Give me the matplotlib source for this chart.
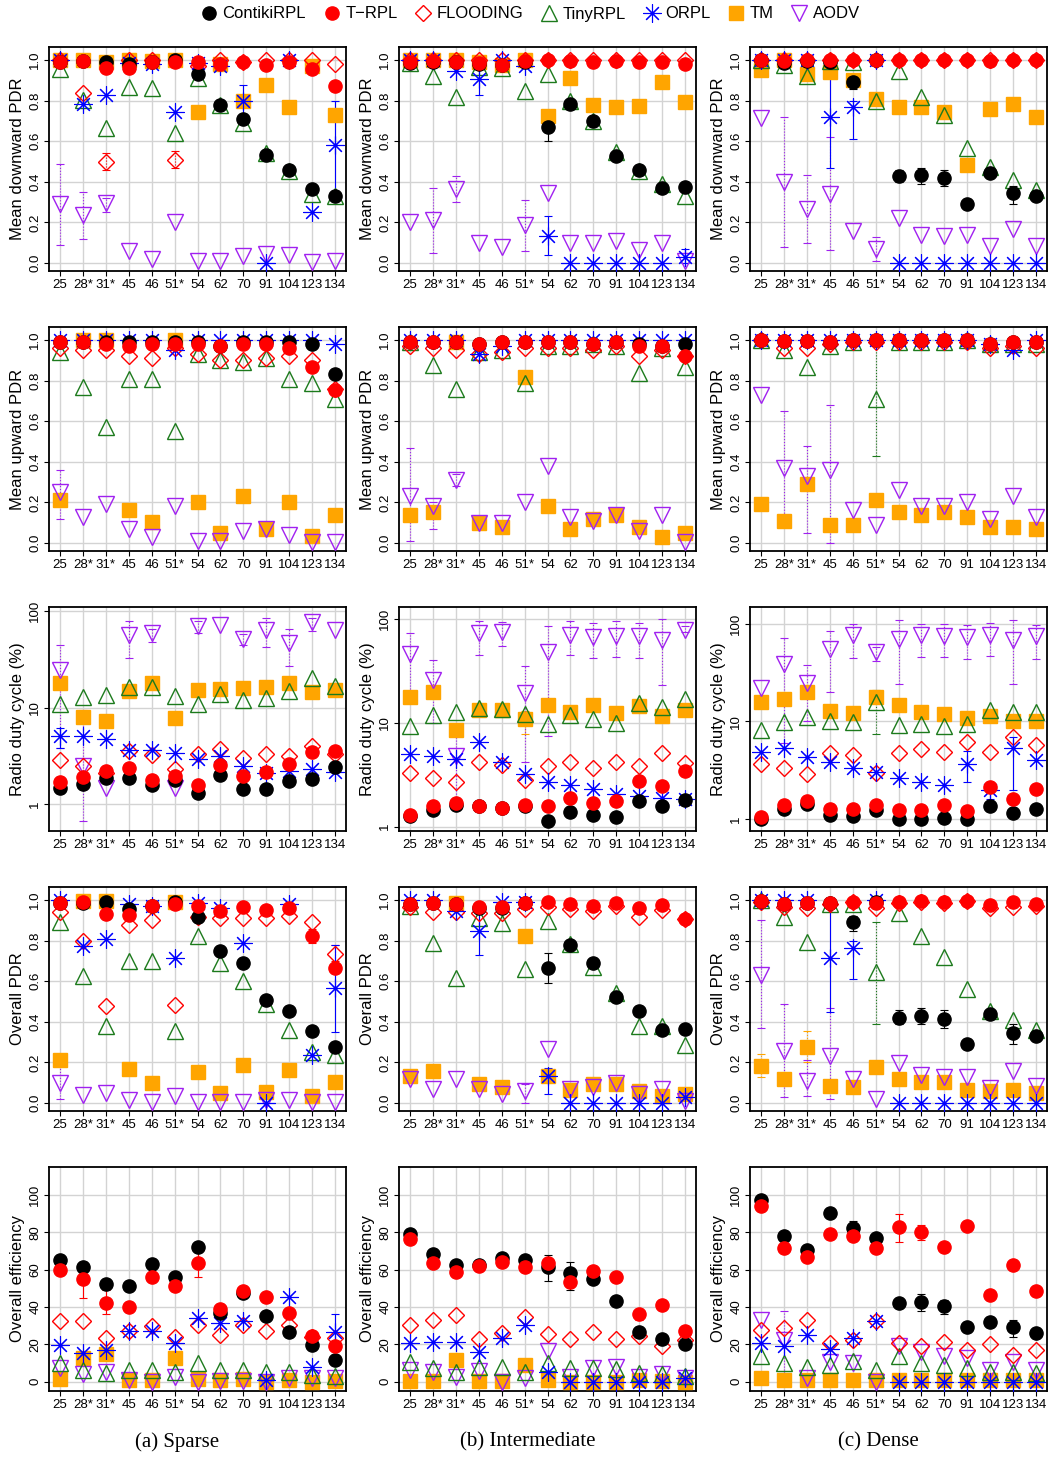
import numpy as np
import matplotlib
matplotlib.use('Agg')
import matplotlib.pyplot as plt
from matplotlib.lines import Line2D
from matplotlib.ticker import FixedLocator, NullLocator

plt.rcParams['font.family'] = ['Liberation Sans', 'DejaVu Sans']

CATS = ['25', '28*', '31*', '45', '46', '51*', '54', '62', '70', '91', '104', '123', '134']
SERIES = ['ContikiRPL', 'T-RPL', 'FLOODING', 'TinyRPL', 'ORPL', 'TM', 'AODV']
LEGEND_LABELS = ['ContikiRPL', 'T\u2212RPL', 'FLOODING', 'TinyRPL', 'ORPL', 'TM', 'AODV']
SCENARIOS = ['(a) Sparse', '(b) Intermediate', '(c) Dense']

# ---- mean downward PDR ----
DOWN_SPARSE = {
    'ContikiRPL': [0.99, 0.995, 0.99, 0.98, 0.99, 1.0, 0.93, 0.78, 0.71, 0.53, 0.46, 0.365, 0.33],
    'T-RPL': [0.99, 0.995, 0.96, 0.96, 0.99, 0.99, 0.99, 0.98, 0.99, 0.975, 0.99, 0.955, 0.875],
    'FLOODING': [1.0, 0.84, 0.50, 1.0, 1.0, 0.51, 0.97, 1.0, 0.99, 1.0, 1.0, 1.0, 0.98],
    'TinyRPL': [0.955, 0.805, 0.665, 0.87, 0.865, 0.64, 0.91, 0.78, 0.69, 0.54, 0.455, 0.34, 0.33],
    'ORPL': [1.0, 0.785, 0.83, 0.985, 0.98, 0.745, 0.985, 0.97, 0.80, 0.0, 1.0, 0.25, 0.58],
    'TM': [1.0, 1.0, 0.99, 1.0, 0.995, 1.0, 0.745, 0.98, 0.80, 0.88, 0.77, 0.97, 0.73],
    'AODV': [0.29, 0.235, 0.295, 0.06, 0.02, 0.20, 0.01, 0.01, 0.035, 0.045, 0.04, 0.005, 0.01],
}
DOWN_INTER = {
    'ContikiRPL': [0.985, 0.99, 0.99, 0.98, 0.975, 0.99, 0.67, 0.785, 0.70, 0.525, 0.46, 0.37, 0.375],
    'T-RPL': [0.99, 0.995, 0.99, 0.985, 0.975, 0.995, 1.0, 0.995, 0.99, 0.995, 0.99, 0.99, 0.98],
    'FLOODING': [1.0, 1.0, 1.0, 1.0, 1.0, 1.0, 1.0, 1.0, 1.0, 1.0, 1.0, 1.0, 1.0],
    'TinyRPL': [0.985, 0.92, 0.82, 0.965, 0.96, 0.85, 0.93, 0.80, 0.70, 0.545, 0.455, 0.39, 0.33],
    'ORPL': [1.0, 1.0, 0.945, 0.905, 1.0, 0.97, 0.135, 0.0, 0.0, 0.0, 0.0, 0.0, 0.03],
    'TM': [1.0, 1.0, 1.0, 0.99, 0.975, 1.0, 0.725, 0.91, 0.78, 0.77, 0.775, 0.89, 0.795],
    'AODV': [0.20, 0.21, 0.365, 0.10, 0.08, 0.185, 0.345, 0.10, 0.10, 0.11, 0.065, 0.10, 0.01],
}
DOWN_DENSE = {
    'ContikiRPL': [1.0, 0.985, 0.995, 0.99, 0.89, 1.0, 0.43, 0.435, 0.42, 0.29, 0.445, 0.345, 0.33],
    'T-RPL': [1.0, 0.995, 1.0, 1.0, 1.0, 1.0, 1.0, 1.0, 1.0, 1.0, 0.995, 1.0, 1.0],
    'FLOODING': [1.0, 1.0, 1.0, 1.0, 1.0, 1.0, 1.0, 1.0, 1.0, 1.0, 1.0, 1.0, 1.0],
    'TinyRPL': [1.0, 0.975, 0.92, 0.995, 0.99, 0.80, 0.945, 0.82, 0.73, 0.565, 0.475, 0.41, 0.36],
    'ORPL': [1.0, 1.0, 1.0, 0.72, 0.77, 1.0, 0.0, 0.0, 0.0, 0.0, 0.0, 0.0, 0.0],
    'TM': [0.95, 1.0, 0.93, 0.94, 0.90, 0.81, 0.77, 0.77, 0.745, 0.485, 0.76, 0.785, 0.72],
    'AODV': [0.715, 0.40, 0.265, 0.34, 0.155, 0.07, 0.22, 0.14, 0.135, 0.14, 0.085, 0.165, 0.085],
}
ERR_DOWN_SPARSE = {
    'AODV': {0: (0.09, 0.49), 1: (0.12, 0.35), 2: (0.25, 0.32)},
    'ORPL': {8: (0.72, 0.88), 12: (0.33, 0.80)},
    'FLOODING': {2: (0.46, 0.54), 5: (0.47, 0.55)},
}
ERR_DOWN_INTER = {
    'ContikiRPL': {6: (0.60, 0.74)},
    'ORPL': {3: (0.83, 0.98), 6: (0.04, 0.23), 12: (0.0, 0.07)},
    'AODV': {1: (0.05, 0.37), 2: (0.30, 0.43), 5: (0.06, 0.31)},
}
ERR_DOWN_DENSE = {
    'AODV': {1: (0.08, 0.72), 2: (0.10, 0.435), 3: (0.065, 0.62), 5: (0.01, 0.13)},
    'ORPL': {3: (0.47, 1.0), 4: (0.61, 0.80)},
    'ContikiRPL': {4: (0.86, 0.92), 6: (0.40, 0.46), 7: (0.39, 0.47), 8: (0.38, 0.46), 11: (0.29, 0.38)},
}

# ---- mean upward PDR ----
UP_SPARSE = {
    'ContikiRPL': [0.99, 0.99, 0.99, 0.99, 0.99, 0.99, 0.99, 0.97, 0.99, 0.99, 0.99, 0.98, 0.835],
    'T-RPL': [0.99, 0.99, 0.98, 0.97, 0.98, 0.98, 0.98, 0.97, 0.98, 0.98, 0.96, 0.87, 0.755],
    'FLOODING': [0.96, 0.95, 0.95, 0.92, 0.91, 0.96, 0.93, 0.90, 0.90, 0.91, 0.92, 0.90, 0.76],
    'TinyRPL': [0.94, 0.77, 0.57, 0.81, 0.81, 0.55, 0.93, 0.90, 0.89, 0.91, 0.81, 0.79, 0.71],
    'ORPL': [1.0, 1.0, 1.0, 1.0, 1.0, 0.95, 1.0, 1.0, 1.0, 1.0, 1.0, 1.0, 0.98],
    'TM': [0.21, 1.0, 1.0, 0.16, 0.105, 1.0, 0.20, 0.05, 0.23, 0.07, 0.20, 0.035, 0.14],
    'AODV': [0.25, 0.13, 0.19, 0.07, 0.03, 0.18, 0.01, 0.01, 0.06, 0.07, 0.04, 0.005, 0.005],
}
UP_INTER = {
    'ContikiRPL': [0.99, 0.99, 0.99, 0.98, 0.99, 0.99, 0.99, 0.99, 0.98, 0.99, 0.98, 0.97, 0.98],
    'T-RPL': [0.99, 0.99, 0.99, 0.98, 0.99, 0.99, 0.99, 0.99, 0.98, 0.99, 0.97, 0.97, 0.92],
    'FLOODING': [0.97, 0.96, 0.95, 0.93, 0.94, 0.96, 0.96, 0.96, 0.95, 0.97, 0.92, 0.95, 0.92],
    'TinyRPL': [0.99, 0.88, 0.76, 0.94, 0.95, 0.79, 0.97, 0.97, 0.98, 0.97, 0.84, 0.96, 0.87],
    'ORPL': [1.0, 1.0, 1.0, 0.93, 0.97, 1.0, 1.0, 1.0, 1.0, 1.0, 1.0, 1.0, 1.0],
    'TM': [0.14, 0.15, 0.99, 0.10, 0.08, 0.82, 0.18, 0.07, 0.12, 0.14, 0.08, 0.03, 0.05],
    'AODV': [0.23, 0.18, 0.31, 0.10, 0.10, 0.20, 0.38, 0.13, 0.11, 0.14, 0.06, 0.14, 0.005],
}
UP_DENSE = {
    'ContikiRPL': [1.0, 0.995, 0.995, 0.99, 1.0, 1.0, 1.0, 1.0, 1.0, 1.0, 0.98, 0.99, 0.99],
    'T-RPL': [1.0, 0.995, 0.995, 0.99, 1.0, 1.0, 1.0, 1.0, 1.0, 1.0, 0.98, 0.99, 0.99],
    'FLOODING': [1.0, 0.96, 0.96, 0.98, 0.99, 0.99, 0.99, 0.99, 0.99, 0.99, 0.96, 0.97, 0.96],
    'TinyRPL': [1.0, 0.95, 0.87, 0.97, 0.99, 0.71, 0.99, 0.99, 0.99, 1.0, 0.98, 0.98, 0.98],
    'ORPL': [1.0, 1.0, 1.0, 1.0, 1.0, 1.0, 1.0, 1.0, 1.0, 1.0, 0.98, 0.95, 1.0],
    'TM': [0.19, 0.11, 0.29, 0.09, 0.09, 0.21, 0.15, 0.14, 0.15, 0.13, 0.08, 0.08, 0.07],
    'AODV': [0.73, 0.37, 0.33, 0.36, 0.16, 0.09, 0.26, 0.18, 0.18, 0.20, 0.12, 0.23, 0.13],
}
ERR_UP_SPARSE = {'AODV': {0: (0.12, 0.36)}}
ERR_UP_INTER = {'AODV': {0: (0.01, 0.47), 1: (0.07, 0.20), 2: (0.28, 0.34)}}
ERR_UP_DENSE = {
    'AODV': {1: (0.09, 0.65), 2: (0.05, 0.48), 3: (0.0, 0.68)},
    'TinyRPL': {5: (0.43, 0.99)},
}

# ---- radio duty cycle (%) ----
DUTY_SPARSE = {
    'ContikiRPL': [1.49, 1.61, 1.88, 1.88, 1.57, 1.81, 1.32, 2.04, 1.46, 1.46, 1.74, 1.85, 2.42],
    'T-RPL': [1.70, 1.91, 2.21, 2.39, 1.78, 1.96, 1.57, 2.54, 1.96, 2.15, 2.63, 3.49, 3.60],
    'FLOODING': [2.91, 2.52, 2.09, 3.54, 3.28, 2.30, 3.36, 3.78, 3.03, 3.33, 3.15, 3.99, 3.33],
    'TinyRPL': [11.1, 12.9, 13.6, 16.3, 16.6, 13.3, 11.1, 13.8, 12.1, 12.6, 15.1, 20.2, 16.8],
    'ORPL': [5.14, 5.06, 4.75, 3.63, 3.63, 3.41, 2.95, 3.20, 2.48, 2.12, 2.21, 2.30, 2.15],
    'TM': [18.2, 8.0, 7.35, 15.0, 17.9, 7.8, 15.3, 15.6, 15.9, 16.3, 17.9, 14.7, 15.3],
    'AODV': [24.6, 2.48, 1.49, 56.5, 60.2, 1.49, 70.0, 71.5, 52.0, 64.5, 46.5, 77.6, 64.5],
}
DUTY_INTER = {
    'ContikiRPL': [1.27, 1.45, 1.62, 1.57, 1.50, 1.57, 1.13, 1.40, 1.30, 1.24, 1.77, 1.58, 1.81],
    'T-RPL': [1.29, 1.57, 1.70, 1.60, 1.53, 1.62, 1.58, 1.91, 1.71, 1.77, 2.77, 2.47, 3.46],
    'FLOODING': [3.28, 2.94, 2.70, 4.16, 3.92, 2.83, 3.86, 4.16, 3.67, 4.25, 3.81, 5.09, 4.10],
    'TinyRPL': [9.4, 11.8, 12.7, 13.9, 13.5, 12.2, 9.8, 11.8, 10.9, 10.1, 15.6, 14.2, 17.1],
    'ORPL': [5.01, 4.83, 4.49, 6.59, 4.22, 3.21, 2.70, 2.53, 2.30, 2.06, 1.98, 1.91, 1.84],
    'TM': [17.7, 19.8, 8.56, 13.2, 13.2, 10.8, 15.0, 12.7, 15.0, 12.4, 14.7, 11.6, 13.2],
    'AODV': [46.5, 25.7, 4.83, 73.6, 75.5, 19.4, 48.2, 70.1, 67.5, 68.5, 68.5, 62.6, 79.3],
}
DUTY_DENSE = {
    'ContikiRPL': [1.0, 1.28, 1.45, 1.10, 1.08, 1.26, 1.0, 1.0, 1.02, 1.0, 1.37, 1.17, 1.28],
    'T-RPL': [1.06, 1.39, 1.54, 1.28, 1.29, 1.39, 1.24, 1.26, 1.39, 1.22, 2.15, 1.60, 2.05],
    'FLOODING': [3.68, 3.35, 2.94, 4.76, 4.58, 2.98, 4.76, 5.27, 4.84, 6.12, 4.87, 6.87, 5.70],
    'TinyRPL': [8.2, 9.8, 11.2, 10.2, 9.8, 16.0, 9.2, 9.5, 9.1, 9.4, 13.1, 12.6, 12.6],
    'ORPL': [4.88, 5.35, 4.34, 3.86, 3.35, 3.03, 2.65, 2.42, 2.27, 3.71, 1.99, 5.35, 4.07],
    'TM': [16.0, 17.0, 20.1, 12.8, 12.2, 18.0, 14.8, 12.4, 12.0, 10.8, 11.4, 10.0, 10.2],
    'AODV': [22.2, 38.6, 24.5, 55.6, 76.0, 51.5, 70.5, 76.0, 74.2, 73.0, 76.0, 68.8, 74.2],
}
ERR_DUTY_SPARSE = {
    'AODV': {0: (3.8, 45), 1: (0.68, 9.5), 3: (33, 80), 4: (48, 66), 6: (60, 80),
             8: (45, 58), 9: (43, 85), 10: (27, 65), 11: (62, 85)},
    'ORPL': {0: (3.8, 6.2)},
}
ERR_DUTY_INTER = {
    'AODV': {0: (20, 73), 1: (10, 40), 2: (1.7, 8), 3: (45, 97), 4: (55, 93), 5: (4.2, 35),
             6: (7.5, 86), 7: (45, 95), 8: (42, 92), 9: (43, 95), 10: (42, 92),
             11: (23, 100), 12: (75, 85)},
    'TM': {5: (7.8, 13)},
}
ERR_DUTY_DENSE = {
    'AODV': {1: (6, 72), 2: (10, 38), 3: (20, 85), 4: (45, 100), 5: (42, 58), 6: (24, 110),
             7: (46, 100), 8: (46, 100), 9: (44, 98), 10: (47, 102), 11: (24, 108),
             12: (44, 98)},
    'TinyRPL': {5: (7.5, 21)},
    'ORPL': {9: (2.4, 5.0), 10: (1.6, 2.3), 11: (2.0, 7.0)},
}

# ---- overall PDR ----
ALL_SPARSE = {
    'ContikiRPL': [0.985, 0.985, 0.99, 0.955, 0.97, 0.99, 0.915, 0.75, 0.69, 0.51, 0.455, 0.355, 0.275],
    'T-RPL': [0.985, 0.99, 0.93, 0.925, 0.97, 0.98, 0.97, 0.945, 0.965, 0.95, 0.96, 0.825, 0.665],
    'FLOODING': [0.94, 0.80, 0.48, 0.88, 0.90, 0.485, 0.915, 0.91, 0.91, 0.91, 0.92, 0.89, 0.735],
    'TinyRPL': [0.89, 0.625, 0.38, 0.70, 0.70, 0.355, 0.825, 0.69, 0.60, 0.49, 0.36, 0.25, 0.235],
    'ORPL': [1.0, 0.775, 0.81, 0.98, 0.97, 0.715, 0.985, 0.96, 0.79, 0.0, 0.98, 0.235, 0.565],
    'TM': [0.21, 0.995, 0.995, 0.165, 0.10, 0.99, 0.15, 0.05, 0.185, 0.055, 0.16, 0.035, 0.105],
    'AODV': [0.10, 0.04, 0.05, 0.015, 0.005, 0.035, 0.005, 0.005, 0.005, 0.015, 0.015, 0.005, 0.005],
}
ALL_INTER = {
    'ContikiRPL': [0.98, 0.985, 0.98, 0.96, 0.96, 0.985, 0.665, 0.78, 0.69, 0.52, 0.455, 0.36, 0.365],
    'T-RPL': [0.98, 0.985, 0.98, 0.965, 0.965, 0.985, 0.99, 0.98, 0.97, 0.985, 0.96, 0.975, 0.905],
    'FLOODING': [0.965, 0.94, 0.94, 0.935, 0.935, 0.955, 0.965, 0.955, 0.945, 0.97, 0.915, 0.95, 0.905],
    'TinyRPL': [0.97, 0.79, 0.615, 0.91, 0.885, 0.66, 0.895, 0.785, 0.67, 0.54, 0.38, 0.38, 0.285],
    'ORPL': [1.0, 1.0, 0.945, 0.85, 0.99, 0.99, 0.135, 0.0, 0.0, 0.0, 0.0, 0.0, 0.03],
    'TM': [0.135, 0.155, 0.985, 0.095, 0.08, 0.825, 0.135, 0.065, 0.095, 0.095, 0.06, 0.035, 0.045],
    'AODV': [0.12, 0.07, 0.12, 0.07, 0.045, 0.06, 0.265, 0.07, 0.08, 0.10, 0.045, 0.07, 0.01],
}
ALL_DENSE = {
    'ContikiRPL': [0.995, 0.98, 0.985, 0.985, 0.89, 0.99, 0.42, 0.43, 0.415, 0.29, 0.44, 0.345, 0.33],
    'T-RPL': [0.995, 0.98, 0.985, 0.985, 0.99, 0.985, 0.99, 0.995, 0.99, 0.995, 0.975, 0.99, 0.98],
    'FLOODING': [0.99, 0.965, 0.96, 0.98, 0.99, 0.96, 0.985, 0.99, 0.985, 0.995, 0.96, 0.965, 0.97],
    'TinyRPL': [1.0, 0.915, 0.795, 0.98, 0.98, 0.645, 0.935, 0.825, 0.72, 0.56, 0.455, 0.41, 0.36],
    'ORPL': [1.0, 1.0, 1.0, 0.715, 0.765, 1.0, 0.0, 0.0, 0.0, 0.0, 0.0, 0.0, 0.0],
    'TM': [0.18, 0.12, 0.275, 0.085, 0.08, 0.175, 0.12, 0.105, 0.105, 0.065, 0.06, 0.065, 0.05],
    'AODV': [0.63, 0.255, 0.11, 0.23, 0.12, 0.02, 0.195, 0.14, 0.13, 0.13, 0.075, 0.155, 0.085],
}
ERR_ALL_SPARSE = {
    'AODV': {0: (0.02, 0.18)},
    'ORPL': {12: (0.35, 0.78)},
    'FLOODING': {12: (0.70, 0.78)},
    'T-RPL': {11: (0.79, 0.86)},
}
ERR_ALL_INTER = {
    'ContikiRPL': {6: (0.59, 0.74)},
    'ORPL': {3: (0.73, 0.97), 6: (0.045, 0.17)},
    'AODV': {5: (0.0, 0.095)},
}
ERR_ALL_DENSE = {
    'AODV': {0: (0.37, 0.90), 1: (0.03, 0.49), 2: (0.035, 0.21), 3: (0.02, 0.47)},
    'TinyRPL': {5: (0.39, 0.89)},
    'ORPL': {3: (0.45, 1.0), 4: (0.61, 0.80)},
    'ContikiRPL': {4: (0.85, 0.92), 6: (0.39, 0.46), 7: (0.39, 0.47), 8: (0.37, 0.46), 11: (0.29, 0.39)},
    'TM': {0: (0.13, 0.24), 2: (0.20, 0.355)},
}

# ---- overall efficiency ----
EFF_SPARSE = {
    'ContikiRPL': [65.4, 61.3, 52.3, 51.4, 63.1, 55.9, 72.1, 36.9, 47.4, 35.1, 26.5, 19.5, 11.4],
    'T-RPL': [60.0, 55.0, 42.3, 40.0, 56.2, 51.4, 63.4, 38.7, 48.6, 45.4, 36.6, 24.3, 19.3],
    'FLOODING': [32.4, 32.4, 23.4, 27.0, 29.7, 23.8, 30.1, 25.2, 30.6, 27.0, 30.3, 23.8, 23.4],
    'TinyRPL': [9.9, 6.3, 4.5, 6.3, 6.3, 5.0, 9.9, 6.3, 6.3, 5.4, 5.0, 3.6, 3.2],
    'ORPL': [19.8, 15.3, 17.1, 27.4, 27.4, 20.7, 33.9, 31.5, 32.4, 0.9, 45.4, 7.7, 26.5],
    'TM': [1.3, 12.6, 14.8, 0.9, 0.9, 12.6, 1.4, 0.9, 1.4, 0.0, 0.9, 0.0, 0.4],
    'AODV': [7.2, 4.0, 5.4, 0.9, 0.0, 2.7, 0.0, 0.4, 0.4, 0.0, 1.8, 1.8, 1.8],
}
EFF_INTER = {
    'ContikiRPL': [78.9, 68.5, 62.7, 62.5, 66.1, 65.2, 61.3, 58.2, 55.0, 43.2, 26.7, 22.9, 20.2],
    'T-RPL': [76.4, 63.6, 58.9, 62.2, 64.3, 61.6, 63.6, 53.2, 59.5, 55.9, 36.0, 41.1, 27.0],
    'FLOODING': [30.1, 32.8, 35.5, 23.1, 26.1, 34.8, 25.8, 23.1, 26.5, 22.9, 24.3, 19.3, 22.2],
    'TinyRPL': [10.8, 7.2, 5.4, 8.1, 7.6, 5.4, 9.9, 7.2, 7.2, 6.7, 4.5, 4.0, 3.1],
    'ORPL': [20.7, 21.1, 21.1, 15.9, 23.4, 30.6, 5.4, 0.0, 0.0, 0.0, 0.0, 0.0, 1.8],
    'TM': [0.5, 0.5, 11.7, 0.5, 0.5, 9.0, 0.9, 0.0, 0.0, 0.0, 0.9, 0.5, 0.0],
    'AODV': [6.3, 5.4, 2.7, 5.8, 0.0, 1.8, 16.2, 2.7, 7.2, 8.1, 2.7, 4.1, 1.8],
}
EFF_DENSE = {
    'ContikiRPL': [97.3, 77.8, 70.3, 90.1, 82.3, 77.1, 42.3, 42.9, 40.5, 29.4, 32.1, 29.2, 26.1],
    'T-RPL': [94.2, 71.7, 66.7, 79.3, 77.8, 71.5, 82.9, 80.2, 72.4, 83.4, 46.5, 62.7, 48.6],
    'FLOODING': [27.6, 28.8, 32.8, 20.7, 22.5, 32.4, 20.7, 19.3, 21.1, 16.8, 20.2, 14.4, 16.8],
    'TinyRPL': [13.5, 9.9, 8.1, 9.0, 11.2, 6.3, 13.5, 9.9, 9.0, 7.2, 5.0, 5.0, 4.5],
    'ORPL': [20.7, 18.9, 24.9, 17.7, 23.4, 32.4, 0.0, 0.0, 0.0, 0.0, 0.0, 0.0, 0.0],
    'TM': [2.2, 0.9, 0.9, 0.9, 0.9, 0.9, 0.9, 0.9, 0.9, 0.9, 0.9, 0.9, 0.9],
    'AODV': [33.3, 22.5, 2.2, 10.8, 9.9, 0.0, 19.3, 15.7, 13.5, 12.6, 6.3, 10.8, 6.3],
}
ERR_EFF_SPARSE = {
    'ContikiRPL': {1: (57, 64)},
    'T-RPL': {1: (45, 64), 2: (36, 49), 6: (56, 70)},
    'ORPL': {12: (20, 36)},
}
ERR_EFF_INTER = {
    'ContikiRPL': {6: (54, 68), 7: (49, 64)},
    'T-RPL': {10: (33, 39)},
}
ERR_EFF_DENSE = {
    'ContikiRPL': {4: (77, 86), 7: (38, 47), 8: (36, 44), 11: (24, 33)},
    'T-RPL': {6: (75, 90), 7: (76, 84)},
    'AODV': {1: (3, 38)},
}

STYLES = {
    'ContikiRPL': dict(marker='o', color='black', mfc='black', ms=9.5),
    'T-RPL': dict(marker='o', color='red', mfc='red', ms=9.5),
    'FLOODING': dict(marker='D', color='red', mfc='none', ms=8.5, mew=1.0),
    'TinyRPL': dict(marker='^', color='#1c7a1c', mfc='none', ms=11.5, mew=1.0),
    'ORPL': dict(marker=(8, 2, 0), color='blue', ms=13, mew=0.8),
    'TM': dict(marker='s', color='#ffa500', mfc='#ffa500', ms=9.5),
    'AODV': dict(marker='v', color='#a020f0', mfc='none', ms=11.5, mew=1.0),
}
ERR_LS = {'ContikiRPL': '-', 'T-RPL': '-', 'ORPL': '-',
          'FLOODING': ':', 'TinyRPL': ':', 'TM': ':', 'AODV': ':'}
DRAW_ORDER = ['TM', 'AODV', 'TinyRPL', 'FLOODING', 'ORPL', 'ContikiRPL', 'T-RPL']

W, H = 1058, 1458
COL_LEFT = [49, 399, 750]
COL_W = 297
ROW_TOP = [47, 327, 607, 887, 1167]
ROW_H = 224

ROWS = [
    ('Mean downward PDR', [DOWN_SPARSE, DOWN_INTER, DOWN_DENSE],
     [ERR_DOWN_SPARSE, ERR_DOWN_INTER, ERR_DOWN_DENSE], 'pdr'),
    ('Mean upward PDR', [UP_SPARSE, UP_INTER, UP_DENSE],
     [ERR_UP_SPARSE, ERR_UP_INTER, ERR_UP_DENSE], 'pdr'),
    ('Radio duty cycle (%)', [DUTY_SPARSE, DUTY_INTER, DUTY_DENSE],
     [ERR_DUTY_SPARSE, ERR_DUTY_INTER, ERR_DUTY_DENSE], 'log'),
    ('Overall PDR', [ALL_SPARSE, ALL_INTER, ALL_DENSE],
     [ERR_ALL_SPARSE, ERR_ALL_INTER, ERR_ALL_DENSE], 'pdr'),
    ('Overall efficiency', [EFF_SPARSE, EFF_INTER, EFF_DENSE],
     [ERR_EFF_SPARSE, ERR_EFF_INTER, ERR_EFF_DENSE], 'eff'),
]
LOG_YLIM = [(0.53, 111), (0.91, 131), (0.76, 148)]


def draw_panel(ax, data, errs, kind, col):
    x = np.arange(1, len(CATS) + 1)
    ax.grid(True, color='#d3d3d3', lw=1.0)
    ax.set_axisbelow(True)
    for name in DRAW_ORDER:
        st = STYLES[name]
        y = np.array(data[name], dtype=float)
        e = errs.get(name, {})
        if e:
            idx = np.array(sorted(e))
            lo = np.array([e[i][0] for i in idx])
            hi = np.array([e[i][1] for i in idx])
            yy = y[idx]
            eb = ax.errorbar(x[idx], yy, yerr=[np.clip(yy - lo, 0, None), np.clip(hi - yy, 0, None)],
                             fmt='none', ecolor=st['color'], elinewidth=0.8, capsize=3,
                             capthick=0.8, zorder=2)
            for lc in eb[2]:
                lc.set_linestyle(ERR_LS[name])
        ax.plot(x, y, ls='none', zorder=3, **st)

    ax.set_xlim(0.52, 13.48)
    ax.xaxis.set_major_locator(FixedLocator(x))
    ax.set_xticklabels(CATS)
    if kind == 'pdr':
        ax.set_ylim(-0.04, 1.065)
        ax.yaxis.set_major_locator(FixedLocator([0, 0.2, 0.4, 0.6, 0.8, 1.0]))
        ax.set_yticklabels(['0.0', '0.2', '0.4', '0.6', '0.8', '1.0'])
    elif kind == 'log':
        ax.set_yscale('log')
        ax.set_ylim(*LOG_YLIM[col])
        ax.yaxis.set_major_locator(FixedLocator([1, 10, 100]))
        ax.yaxis.set_minor_locator(NullLocator())
        ax.set_yticklabels(['1', '10', '100'])
    else:
        ax.set_ylim(-5, 115)
        ax.yaxis.set_major_locator(FixedLocator([0, 20, 40, 60, 80, 100]))
        ax.set_yticklabels(['0', '20', '40', '60', '80', '100'])
    ax.tick_params(axis='both', labelsize=9.5, length=3.5, width=0.8, pad=2, colors='black')
    ax.tick_params(axis='y', labelrotation=90)
    for lab in ax.get_yticklabels():
        lab.set_va('center')
    for sp in ax.spines.values():
        sp.set_linewidth(1.3)


fig = plt.figure(figsize=(W / 100, H / 100), dpi=100)

for r, (ylabel, datas, errs, kind) in enumerate(ROWS):
    for c in range(3):
        left = COL_LEFT[c] / W
        bottom = 1 - (ROW_TOP[r] + ROW_H) / H
        ax = fig.add_axes([left, bottom, COL_W / W, ROW_H / H])
        draw_panel(ax, datas[c], errs[c], kind, c)
        ax.set_ylabel(ylabel, fontsize=12, labelpad=3)

for c, title in enumerate(SCENARIOS):
    cx = (COL_LEFT[c] + COL_W / 2 - 20) / W
    fig.text(cx, 1 - 1442 / H, title, ha='center', va='center',
             family=['Liberation Serif', 'DejaVu Serif'], fontsize=15)

handles = []
for name, lab in zip(SERIES, LEGEND_LABELS):
    st = dict(STYLES[name])
    handles.append(Line2D([], [], ls='none', label=lab, **st))
fig.legend(handles=handles, loc='center', bbox_to_anchor=(0.5, 1 - 14 / H), ncol=7,
           frameon=False, fontsize=12, handletextpad=0.15, columnspacing=0.9,
           handlelength=1.3, borderaxespad=0)

fig.savefig('out.png', dpi=100)
